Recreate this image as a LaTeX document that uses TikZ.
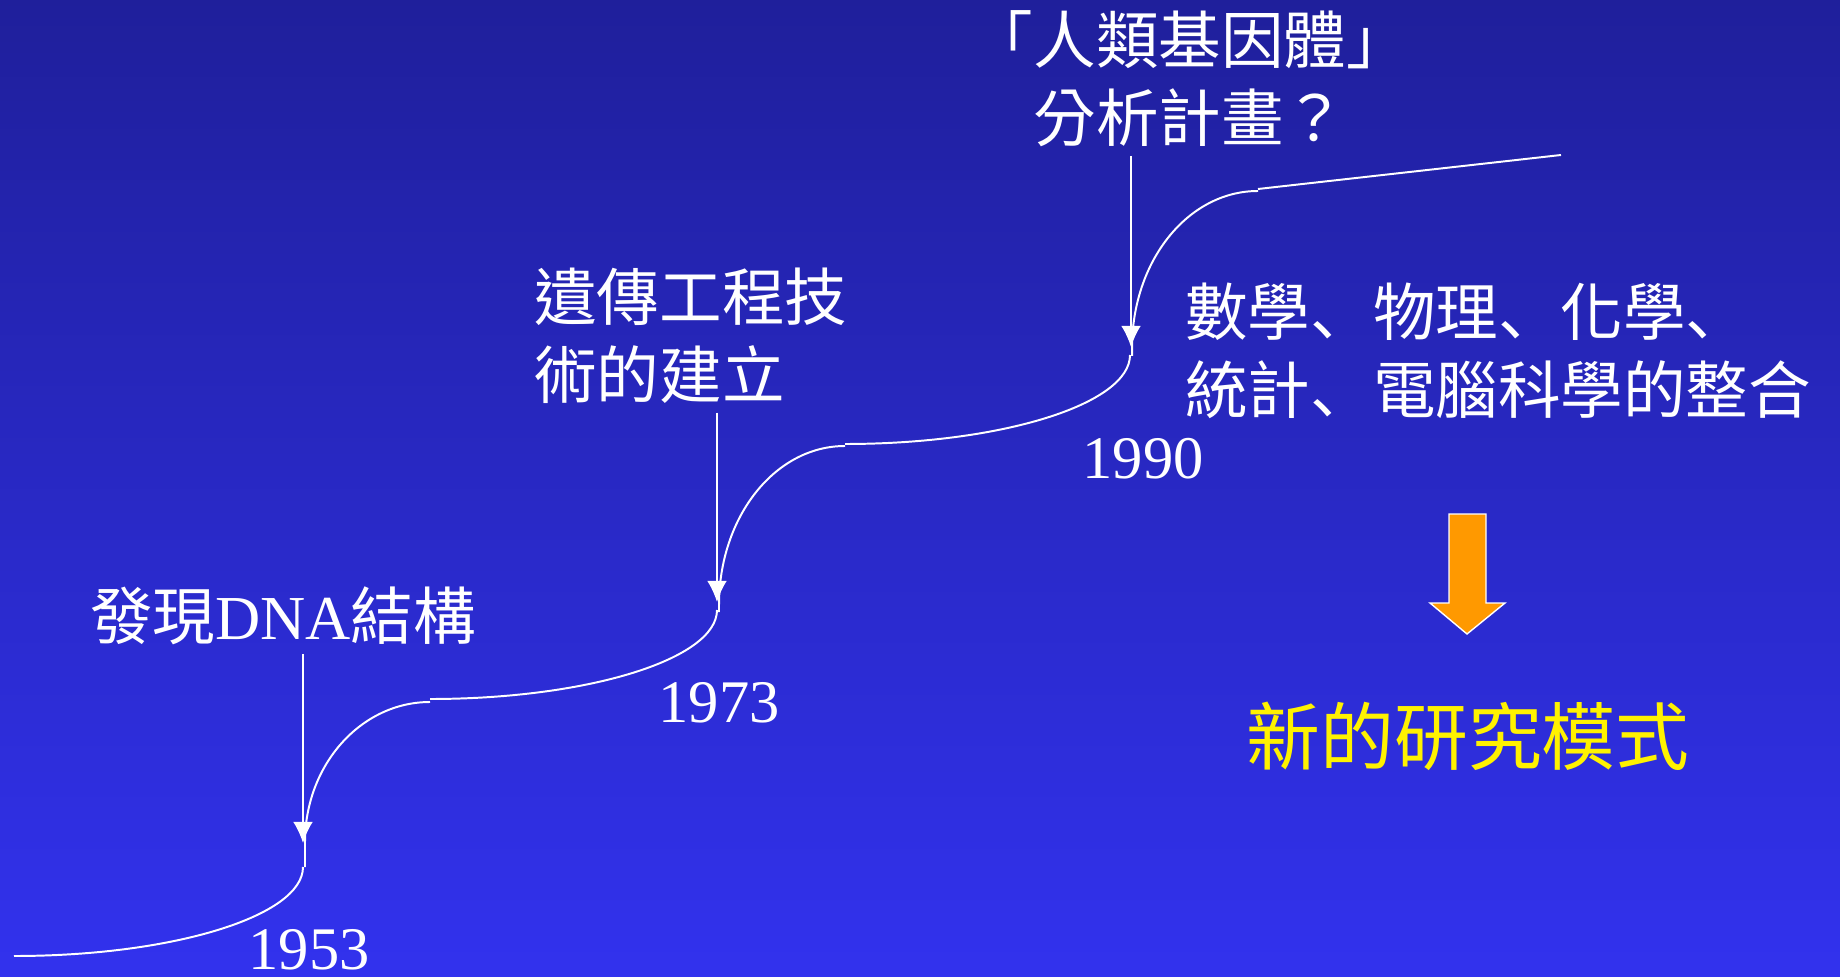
\documentclass[tikz,border=0pt]{standalone}
\usepackage{fontspec}
\setmainfont{Liberation Serif}
\newfontfamily\cjk{Noto Sans CJK TC}
\newfontfamily\cjkjp{Noto Sans CJK JP}
\newcommand{\dun}{{\cjkjp 、}}
\usetikzlibrary{arrows.meta}
\definecolor{bgtop}{RGB}{31,31,155}
\definecolor{bgbot}{RGB}{50,50,238}
\definecolor{arroworange}{RGB}{255,153,0}

\begin{document}
\begin{tikzpicture}[x=0.025cm, y=-0.025cm, >={Latex[length=15pt,width=14pt]},
	cjktext/.style={text=white, inner sep=0pt, font=\cjk\fontsize{44.5}{55.5}\selectfont},
	year/.style={text=white, inner sep=0pt, font=\fontsize{43}{50}\selectfont},
	curve/.style={white, line width=1.4pt},
	pointer/.style={white, line width=1.1pt, ->}]
	\shade [top color=bgtop, bottom color=bgbot] (0,0) rectangle (1840,977);
	\useasboundingbox (0,0) rectangle (1840,977);
	% steps of the curve
	\draw [curve] (14,956) .. controls (173,956) and (303,916) .. (303,867);
	\draw [curve] (305,867) -- (305,842) .. controls (305,765) and (361,702) .. (430,702);
	\draw [curve] (430,699) .. controls (588,699) and (717,659) .. (717,610);
	\draw [curve] (719,612) -- (719,605) .. controls (719,517) and (775,446) .. (845,446);
	\draw [curve] (845,444) .. controls (1002,444) and (1130,404) .. (1130,355);
	\draw [curve] (1132,356) -- (1132,348) .. controls (1132,261) and (1188,191) .. (1258,191);
	\draw [curve] (1258,189) -- (1561,155);
	\coordinate (s1) at (303,843);
	\coordinate (s2) at (717,602);
	\coordinate (s3) at (1131,347);
	% labels
	\node [cjktext] (dna) at (283,616) {發現{\rmfamily DNA}結構};
	\node [cjktext, align=left, anchor=west] (tech) at (534,336) {遺傳工程技\\術的建立};
	\node [cjktext, align=center] (hgp) at (1190,79) {「人類基因體」\\分析計畫？};
	\node [cjktext, align=left, anchor=west] (mix) at (1185,351) {數學\dun 物理\dun 化學\dun\\統計\dun 電腦科學的整合};
	\node [year] (y1) at (309,950) {1953};
	\node [year] (y2) at (719,703) {1973};
	\node [year] (y3) at (1143,459) {1990};
	\draw [pointer] ([yshift=-6pt]dna.south -| s1) -- (s1);
	\draw [pointer] ([yshift=-6pt]tech.south -| s2) -- (s2);
	\draw [pointer] ([yshift=-6pt]hgp.south -| s3) -- (s3);
	% big arrow
	\filldraw [fill=arroworange, draw=white, line width=1pt] (1449,514) -- (1486,514) -- (1486,603) -- (1505,603) -- (1467,634) -- (1430,603) -- (1449,603) -- cycle;
	\node [cjktext, text=yellow, font=\cjk\fontsize{52.5}{60}\selectfont] (new) at (1468,736) {新的研究模式};
\end{tikzpicture}
\end{document}
